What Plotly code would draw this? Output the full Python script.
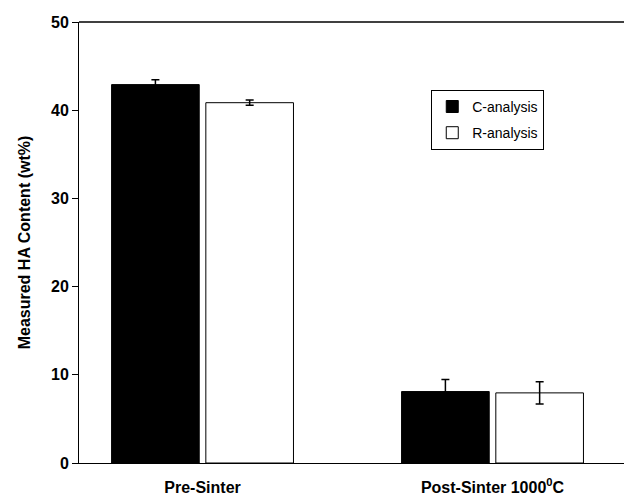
import plotly.graph_objects as go

categories = ["Pre-Sinter", "Post-Sinter 1000<sup>0</sup>C"]
c_analysis = [42.9, 8.1]
c_err = [0.55, 1.37]
r_analysis = [40.85, 7.95]
r_err = [0.3, 1.26]
y_ticks = [0, 10, 20, 30, 40, 50]

FONT = "Liberation Sans, Arial, sans-serif"

fig = go.Figure()
fig.add_trace(go.Bar(
    x=categories, y=c_analysis, name="C-analysis", legendgroup="c",
    marker=dict(color="black", line=dict(color="black", width=1)),
    error_y=dict(type="data", array=c_err, visible=True, color="black", thickness=1.5, width=4),
))
fig.add_trace(go.Bar(
    x=categories, y=r_analysis, name="R-analysis", legendgroup="r",
    marker=dict(color="white", line=dict(color="black", width=1)),
    error_y=dict(type="data", array=r_err, visible=True, color="black", thickness=1.5, width=4),
))

fig.update_layout(
    width=624, height=489,
    margin=dict(l=71, r=0, t=14, b=34),
    paper_bgcolor="white", plot_bgcolor="white",
    barmode="group", bargap=0.35, bargroupgap=0.07,
    font=dict(family=FONT, color="black"),
    showlegend=True,
    legend=dict(
        x=0.637, y=0.846, xanchor="left", yanchor="top",
        bordercolor="black", borderwidth=1, bgcolor="white",
        font=dict(family=FONT, size=14, color="black"),
        traceorder="grouped", tracegroupgap=5,
    ),
    xaxis=dict(
        type="category", range=[-0.426, 1.481], automargin=False,
        showline=True, linecolor="black", linewidth=1,
        ticks="", showgrid=False, zeroline=False,
        tickfont=dict(family=FONT, size=16, weight="bold", color="black"),
        ticklabelstandoff=10,
        mirror=False,
    ),
    yaxis=dict(
        range=[0, 50], tickvals=y_ticks, automargin=False,
        showline=True, linecolor="black", linewidth=1,
        ticks="outside", ticklen=6, tickcolor="black",
        showgrid=False, zeroline=False,
        tickfont=dict(family=FONT, size=16, weight="bold", color="black"),
        title=dict(text="Measured HA Content (wt%)", standoff=16,
                   font=dict(family=FONT, size=16, weight="bold", color="black")),
    ),
    shapes=[dict(type="line", xref="paper", yref="paper", x0=0, x1=1, y0=1, y1=1,
                 line=dict(color="black", width=1.5))],
)

fig.write_html("out.html")
